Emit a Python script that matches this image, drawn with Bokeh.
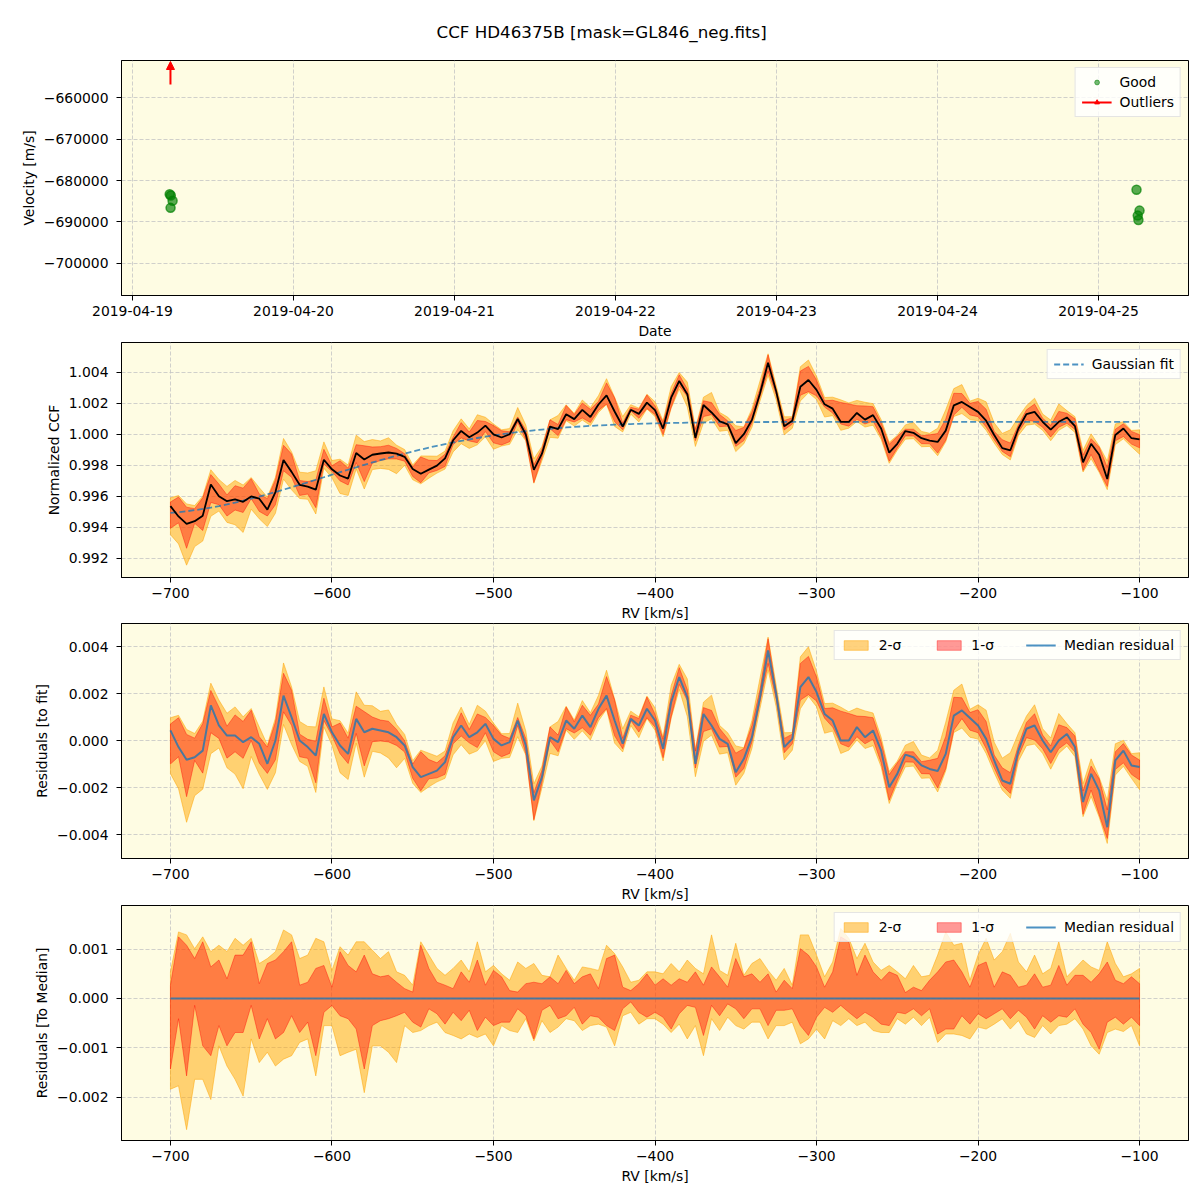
import math
from datetime import datetime, timezone
from bokeh.plotting import figure
from bokeh.models import (Range1d, FixedTicker, CustomJSTickFormatter, DatetimeTickFormatter,
                          Legend, LegendItem, Arrow, NormalHead)
from bokeh.layouts import column
from bokeh.embed import file_html
from bokeh.resources import INLINE

FONT = "DejaVu Sans"
BG = "#fefce3"
FS = "13.9px"

# ---------------- Panel 1 data (velocity time series) ----------------
good_times = ["2019-04-19 05:33", "2019-04-19 05:43", "2019-04-19 05:59", "2019-04-19 05:41",
              "2019-04-25 05:40", "2019-04-25 06:07", "2019-04-25 05:51", "2019-04-25 05:57"]
good_velocity = [-683300, -683600, -684900, -686600,
                 -682250, -687260, -688470, -689520]
outlier_times = ["2019-04-19 05:40"]
date_ticks = ["2019-04-19", "2019-04-20", "2019-04-21", "2019-04-22",
              "2019-04-23", "2019-04-24", "2019-04-25"]
velocity_ticks = [-700000, -690000, -680000, -670000, -660000]

# ---------------- CCF data (RV grid, km/s) ----------------
rv = list(range(-700, -95, 5))

gaussian_fit = [
    0.994946, 0.994992, 0.995049, 0.995117, 0.995195, 0.995284, 0.995382, 0.995490, 0.995606, 0.995730,
    0.995861, 0.995999, 0.996142, 0.996290, 0.996442, 0.996598, 0.996757, 0.996918, 0.997080, 0.997242,
    0.997404, 0.997566, 0.997726, 0.997885, 0.998041, 0.998194, 0.998343, 0.998489, 0.998631, 0.998768,
    0.998900, 0.999028, 0.999151, 0.999268, 0.999380, 0.999487, 0.999588, 0.999684, 0.999774, 0.999860,
    0.999940, 1.000015, 1.000085, 1.000151, 1.000211, 1.000268, 1.000320, 1.000368, 1.000413, 1.000453,
    1.000491, 1.000525, 1.000556, 1.000584, 1.000610, 1.000633, 1.000655, 1.000673, 1.000691, 1.000706,
    1.000720, 1.000732, 1.000743, 1.000752, 1.000761, 1.000769, 1.000775, 1.000781, 1.000786, 1.000791,
    1.000795, 1.000798, 1.000802, 1.000804, 1.000806, 1.000808, 1.000810, 1.000812, 1.000813, 1.000814,
    1.000815, 1.000816, 1.000817, 1.000817, 1.000818, 1.000818, 1.000819, 1.000820, 1.000820, 1.000820,
    1.000820, 1.000820, 1.000820, 1.000820, 1.000820, 1.000820, 1.000820, 1.000820, 1.000820, 1.000820,
    1.000820, 1.000820, 1.000820, 1.000820, 1.000820, 1.000820, 1.000820, 1.000820, 1.000820, 1.000820,
    1.000820, 1.000820, 1.000820, 1.000820, 1.000820, 1.000820, 1.000820, 1.000820, 1.000820, 1.000820,
    1.000820]

median_residual = [
    0.00043, -0.00028, -0.00082, -0.00071, -0.00043, 0.00149, 0.00064, 0.00021, 0.00021, -0.00007,
    0.00014, -0.00014, -0.00099, 0.00000, 0.00191, 0.00099, 0.00000, -0.00028, -0.00064, 0.00113,
    0.00035, -0.00021, -0.00057, 0.00092, 0.00035, 0.00050, 0.00043, 0.00035, 0.00014, -0.00021,
    -0.00113, -0.00156, -0.00142, -0.00128, -0.00092, 0.00014, 0.00064, 0.00014, 0.00035, 0.00071,
    0.00007, -0.00021, -0.00007, 0.00085, -0.00021, -0.00255, -0.00156, 0.00014, -0.00007, 0.00085,
    0.00050, 0.00106, 0.00057, 0.00135, 0.00191, 0.00085, -0.00014, 0.00092, 0.00064, 0.00135,
    0.00085, -0.00035, 0.00163, 0.00270, 0.00184, -0.00099, 0.00113, 0.00064, 0.00007, -0.00014,
    -0.00135, -0.00078, 0.00014, 0.00184, 0.00383, 0.00199, -0.00028, 0.00007, 0.00227, 0.00270,
    0.00206, 0.00113, 0.00085, 0.00000, 0.00000, 0.00057, 0.00014, 0.00043, -0.00043, -0.00199,
    -0.00142, -0.00060, -0.00071, -0.00106, -0.00121, -0.00130, -0.00057, 0.00106, 0.00128, 0.00096,
    0.00064, 0.00007, -0.00085, -0.00170, -0.00184, -0.00043, 0.00050, 0.00064, 0.00000, -0.00050,
    0.00000, 0.00028, -0.00028, -0.00262, -0.00142, -0.00213, -0.00369, -0.00085, -0.00043, -0.00106,
    -0.00113]

# spread of the CCF ensemble relative to its median
sigma2_upper = [
    0.00054, 0.00135, 0.00129, 0.00101, 0.00125, 0.00095, 0.00108, 0.00095, 0.00122, 0.00108,
    0.00122, 0.00071, 0.00081, 0.00095, 0.00139, 0.00129, 0.00081, 0.00088, 0.00122, 0.00115,
    0.00057, 0.00105, 0.00088, 0.00115, 0.00115, 0.00098, 0.00081, 0.00095, 0.00054, 0.00047,
    0.00027, 0.00115, 0.00088, 0.00061, 0.00047, 0.00061, 0.00078, 0.00054, 0.00115, 0.00054,
    0.00067, 0.00050, 0.00037, 0.00074, 0.00061, 0.00071, 0.00047, 0.00044, 0.00088, 0.00061,
    0.00037, 0.00064, 0.00061, 0.00057, 0.00108, 0.00091, 0.00064, 0.00033, 0.00037, 0.00054,
    0.00054, 0.00050, 0.00071, 0.00054, 0.00078, 0.00061, 0.00050, 0.00129, 0.00057, 0.00047,
    0.00112, 0.00047, 0.00071, 0.00081, 0.00057, 0.00037, 0.00061, 0.00027, 0.00129, 0.00129,
    0.00088, 0.00044, 0.00074, 0.00142, 0.00122, 0.00081, 0.00112, 0.00074, 0.00057, 0.00067,
    0.00054, 0.00040, 0.00067, 0.00044, 0.00047, 0.00088, 0.00135, 0.00108, 0.00112, 0.00037,
    0.00088, 0.00122, 0.00078, 0.00095, 0.00132, 0.00074, 0.00054, 0.00088, 0.00050, 0.00061,
    0.00115, 0.00044, 0.00061, 0.00078, 0.00064, 0.00057, 0.00115, 0.00071, 0.00044, 0.00050,
    0.00061]

sigma1_upper = [
    0.00027, 0.00125, 0.00108, 0.00081, 0.00115, 0.00064, 0.00078, 0.00040, 0.00088, 0.00088,
    0.00115, 0.00030, 0.00071, 0.00078, 0.00095, 0.00115, 0.00027, 0.00033, 0.00061, 0.00067,
    0.00023, 0.00095, 0.00067, 0.00054, 0.00088, 0.00050, 0.00044, 0.00047, 0.00033, 0.00020,
    0.00013, 0.00108, 0.00061, 0.00033, 0.00027, 0.00020, 0.00054, 0.00033, 0.00078, 0.00027,
    0.00057, 0.00044, 0.00016, 0.00013, 0.00030, 0.00033, 0.00030, 0.00044, 0.00030, 0.00057,
    0.00030, 0.00044, 0.00050, 0.00020, 0.00081, 0.00088, 0.00023, 0.00016, 0.00030, 0.00050,
    0.00027, 0.00040, 0.00027, 0.00040, 0.00033, 0.00054, 0.00027, 0.00064, 0.00044, 0.00023,
    0.00081, 0.00044, 0.00050, 0.00033, 0.00050, 0.00013, 0.00037, 0.00020, 0.00101, 0.00088,
    0.00064, 0.00023, 0.00054, 0.00125, 0.00115, 0.00047, 0.00088, 0.00054, 0.00037, 0.00054,
    0.00047, 0.00012, 0.00023, 0.00016, 0.00037, 0.00054, 0.00074, 0.00078, 0.00054, 0.00023,
    0.00067, 0.00074, 0.00023, 0.00054, 0.00047, 0.00023, 0.00027, 0.00050, 0.00023, 0.00027,
    0.00067, 0.00027, 0.00047, 0.00047, 0.00033, 0.00050, 0.00074, 0.00037, 0.00030, 0.00044,
    0.00030]

sigma1_lower = [
    -0.00143, -0.00041, -0.00157, -0.00014, -0.00096, -0.00116, -0.00055, -0.00096, -0.00069, -0.00069,
    -0.00014, -0.00082, -0.00041, -0.00082, -0.00069, -0.00035, -0.00069, -0.00048, -0.00116, -0.00028,
    -0.00014, -0.00035, -0.00041, -0.00062, -0.00143, -0.00055, -0.00045, -0.00041, -0.00035, -0.00028,
    -0.00048, -0.00058, -0.00021, -0.00031, -0.00052, -0.00028, -0.00045, -0.00024, -0.00065, -0.00038,
    -0.00055, -0.00048, -0.00048, -0.00021, -0.00035, -0.00082, -0.00024, -0.00014, -0.00041, -0.00035,
    -0.00018, -0.00052, -0.00035, -0.00038, -0.00055, -0.00065, -0.00021, -0.00007, -0.00028, -0.00038,
    -0.00028, -0.00038, -0.00062, -0.00031, -0.00014, -0.00018, -0.00075, -0.00014, -0.00035, -0.00011,
    -0.00021, -0.00041, -0.00021, -0.00021, -0.00055, -0.00024, -0.00024, -0.00021, -0.00055, -0.00075,
    -0.00038, -0.00018, -0.00028, -0.00014, -0.00028, -0.00041, -0.00028, -0.00038, -0.00052, -0.00055,
    -0.00028, -0.00031, -0.00021, -0.00035, -0.00021, -0.00072, -0.00062, -0.00062, -0.00035, -0.00052,
    -0.00031, -0.00041, -0.00031, -0.00021, -0.00041, -0.00024, -0.00038, -0.00062, -0.00035, -0.00048,
    -0.00035, -0.00038, -0.00021, -0.00052, -0.00069, -0.00103, -0.00048, -0.00038, -0.00052, -0.00038,
    -0.00055]

sigma2_lower = [
    -0.00184, -0.00177, -0.00266, -0.00164, -0.00164, -0.00205, -0.00096, -0.00137, -0.00164, -0.00198,
    -0.00082, -0.00130, -0.00109, -0.00137, -0.00123, -0.00116, -0.00089, -0.00082, -0.00157, -0.00055,
    -0.00055, -0.00116, -0.00109, -0.00103, -0.00191, -0.00096, -0.00096, -0.00109, -0.00130, -0.00055,
    -0.00069, -0.00065, -0.00055, -0.00048, -0.00069, -0.00075, -0.00082, -0.00072, -0.00079, -0.00072,
    -0.00096, -0.00055, -0.00065, -0.00069, -0.00041, -0.00086, -0.00045, -0.00069, -0.00058, -0.00041,
    -0.00045, -0.00065, -0.00055, -0.00052, -0.00058, -0.00096, -0.00035, -0.00028, -0.00052, -0.00041,
    -0.00041, -0.00052, -0.00069, -0.00052, -0.00082, -0.00055, -0.00116, -0.00041, -0.00065, -0.00038,
    -0.00055, -0.00062, -0.00048, -0.00048, -0.00082, -0.00055, -0.00055, -0.00048, -0.00092, -0.00082,
    -0.00062, -0.00082, -0.00045, -0.00055, -0.00041, -0.00055, -0.00048, -0.00065, -0.00069, -0.00069,
    -0.00041, -0.00052, -0.00038, -0.00055, -0.00038, -0.00089, -0.00072, -0.00072, -0.00075, -0.00082,
    -0.00058, -0.00062, -0.00052, -0.00041, -0.00062, -0.00045, -0.00072, -0.00079, -0.00055, -0.00072,
    -0.00055, -0.00052, -0.00041, -0.00062, -0.00096, -0.00113, -0.00069, -0.00062, -0.00067, -0.00055,
    -0.00096]

rv_ticks = [-700, -600, -500, -400, -300, -200, -100]
ccf_ticks = [0.992, 0.994, 0.996, 0.998, 1.000, 1.002, 1.004]
resid_ticks = [-0.004, -0.002, 0.0, 0.002, 0.004]
median_ticks = [-0.002, -0.001, 0.0, 0.001]

# ---------------- derived series ----------------
ccf_median = [f + r for f, r in zip(gaussian_fit, median_residual)]
zero_line = [r - r for r in median_residual]


def to_ms(s):
    fmt = "%Y-%m-%d %H:%M" if " " in s else "%Y-%m-%d"
    return datetime.strptime(s, fmt).replace(tzinfo=timezone.utc).timestamp() * 1000.0


DAY = 86400000.0


def minus_fmt(digits):
    return CustomJSTickFormatter(
        code="var s = Math.abs(tick).toFixed(%d); return (tick < -1e-12 ? '\u2212' : '') + s;" % digits)


def style(p, xlabel, ylabel):
    p.background_fill_color = BG
    p.border_fill_color = "white"
    p.outline_line_color = "black"
    p.outline_line_width = 1
    for ax in (p.xaxis[0], p.yaxis[0]):
        ax.axis_label_text_font = FONT
        ax.axis_label_text_font_size = FS
        ax.axis_label_text_font_style = "normal"
        ax.axis_label_text_color = "black"
        ax.major_label_text_font = FONT
        ax.major_label_text_font_size = FS
        ax.major_label_text_color = "black"
        ax.major_tick_out = 5
        ax.major_tick_in = 0
        ax.minor_tick_out = 0
        ax.minor_tick_in = 0
        ax.axis_line_color = "black"
        ax.major_tick_line_color = "black"
    p.xaxis[0].major_label_standoff = 5
    p.xaxis[0].axis_label_standoff = 4
    p.yaxis[0].major_label_standoff = 8
    p.yaxis[0].axis_label_standoff = 4
    p.xaxis[0].axis_label = xlabel
    p.yaxis[0].axis_label = ylabel
    for g in (p.xgrid[0], p.ygrid[0]):
        g.grid_line_color = "#c4c4c4"
        g.grid_line_dash = "4 2"
        g.grid_line_alpha = 0.8


def style_legend(leg):
    leg.label_text_font = FONT
    leg.label_text_font_size = FS
    leg.label_text_color = "black"
    leg.background_fill_color = "white"
    leg.background_fill_alpha = 0.8
    leg.border_line_color = "#cccccc"
    leg.border_line_width = 1
    leg.glyph_width = 30
    leg.glyph_height = 12
    leg.label_standoff = 8
    leg.padding = 6
    leg.spacing = 4
    leg.margin = 7
    leg.label_height = 14


def make_fig(top, bottom, x_range, y_range):
    return figure(frame_width=1067, frame_height=235, output_backend="svg",
                  toolbar_location=None, x_range=x_range, y_range=y_range,
                  min_border_left=121, min_border_right=4,
                  min_border_top=top, min_border_bottom=bottom)


# ---------------- Panel 1 ----------------
d0 = to_ms(date_ticks[0])
y_top, y_bot = -651040, -707750
p1 = make_fig(60, 47, Range1d(d0 - 0.068 * DAY, d0 + 6.559 * DAY), Range1d(y_bot, y_top))
style(p1, "Date", "Velocity [m/s]")
p1.xaxis[0].ticker = FixedTicker(ticks=[to_ms(d) for d in date_ticks])
p1.xaxis[0].formatter = DatetimeTickFormatter(
    days="%Y-%m-%d", months="%Y-%m-%d", hours="%Y-%m-%d", years="%Y-%m-%d",
    minutes="%Y-%m-%d", hourmin="%Y-%m-%d")
p1.yaxis[0].ticker = FixedTicker(ticks=velocity_ticks)
p1.yaxis[0].formatter = minus_fmt(0)

p1.scatter(x=[to_ms(t) for t in good_times], y=good_velocity, size=9,
           fill_color="green", fill_alpha=0.65, line_color="green", line_alpha=0.7, line_width=1.5)

# outliers lie above the plotted range: drawn as red up-arrows at the top edge
PX_Y = (y_top - y_bot) / 235.0          # data units per screen pixel (y)
for t in outlier_times:
    tm = to_ms(t)
    p1.add_layout(Arrow(end=NormalHead(size=8, fill_color="red", line_color="red", line_width=1),
                        x_start=tm, y_start=y_top - 24 * PX_Y, x_end=tm, y_end=y_top - 1 * PX_Y,
                        line_color="red", line_width=2))

# legend-only renderers, placed outside the visible range
off_x = [d0 - 20 * DAY, d0 - 19 * DAY]
off_y = [-800000, -800000]
leg_good = p1.scatter(x=off_x[:1], y=off_y[:1], size=5, fill_color="green", fill_alpha=0.55,
                      line_color="green", line_alpha=0.55)
leg_out_line = p1.line(x=off_x, y=off_y, line_color="red", line_width=2)
leg_out_head = p1.scatter(x=off_x[:1], y=off_y[:1], marker="triangle", angle=math.pi / 2, size=9,
                          fill_color="red", line_color="red")
leg1 = Legend(items=[LegendItem(label="Good", renderers=[leg_good]),
                     LegendItem(label="Outliers", renderers=[leg_out_line, leg_out_head])],
              location="top_right")
style_legend(leg1)
p1.add_layout(leg1)

p1.title.text = "CCF HD46375B [mask=GL846_neg.fits]"
p1.title.text_font = FONT
p1.title.text_font_size = "16.7px"
p1.title.text_font_style = "normal"
p1.title.text_color = "black"
p1.title.align = "left"
p1.title.offset = 315
p1.title.standoff = 38

# ---------------- Panel 2 ----------------
def band(center, lo, hi):
    xs = rv + rv[::-1]
    ys = [c + h for c, h in zip(center, hi)] + [c + l for c, l in zip(center, lo)][::-1]
    return xs, ys


p2 = make_fig(0, 46, Range1d(-730.3, -69.7), Range1d(0.990774, 1.005935))
style(p2, "RV [km/s]", "Normalized CCF")
p2.xaxis[0].ticker = FixedTicker(ticks=rv_ticks)
p2.xaxis[0].formatter = minus_fmt(0)
p2.yaxis[0].ticker = FixedTicker(ticks=ccf_ticks)
p2.yaxis[0].formatter = minus_fmt(3)

xs, ys = band(ccf_median, sigma2_lower, sigma2_upper)
p2.patch(xs, ys, fill_color="orange", fill_alpha=0.5, line_color="orange", line_alpha=0.5, line_width=1)
xs, ys = band(ccf_median, sigma1_lower, sigma1_upper)
p2.patch(xs, ys, fill_color="red", fill_alpha=0.4, line_color="red", line_alpha=0.4, line_width=1)
r_fit = p2.line(rv, gaussian_fit, line_color="#1f77b4", line_alpha=0.8, line_width=1.8, line_dash="6 3")
p2.line(rv, ccf_median, line_color="black", line_width=1.8)
leg2 = Legend(items=[LegendItem(label="Gaussian fit", renderers=[r_fit])], location="top_right")
style_legend(leg2)
p2.add_layout(leg2)

# ---------------- Panel 3 ----------------
p3 = make_fig(0, 47, Range1d(-730.3, -69.7), Range1d(-0.005021, 0.004979))
style(p3, "RV [km/s]", "Residuals [to fit]")
p3.xaxis[0].ticker = FixedTicker(ticks=rv_ticks)
p3.xaxis[0].formatter = minus_fmt(0)
p3.yaxis[0].ticker = FixedTicker(ticks=resid_ticks)
p3.yaxis[0].formatter = minus_fmt(3)

xs, ys = band(median_residual, sigma2_lower, sigma2_upper)
r3a = p3.patch(xs, ys, fill_color="orange", fill_alpha=0.5, line_color="orange", line_alpha=0.5, line_width=1)
xs, ys = band(median_residual, sigma1_lower, sigma1_upper)
r3b = p3.patch(xs, ys, fill_color="red", fill_alpha=0.4, line_color="red", line_alpha=0.4, line_width=1)
r3c = p3.line(rv, median_residual, line_color="#1f77b4", line_alpha=0.8, line_width=2)
leg3 = Legend(items=[LegendItem(label="2-\u03c3", renderers=[r3a]),
                     LegendItem(label="1-\u03c3", renderers=[r3b]),
                     LegendItem(label="Median residual", renderers=[r3c])],
              location="top_right", orientation="horizontal")
style_legend(leg3)
leg3.spacing = 32
p3.add_layout(leg3)

# ---------------- Panel 4 ----------------
p4 = make_fig(0, 47, Range1d(-730.3, -69.7), Range1d(-0.00288, 0.001886))
style(p4, "RV [km/s]", "Residuals [To Median]")
p4.xaxis[0].ticker = FixedTicker(ticks=rv_ticks)
p4.xaxis[0].formatter = minus_fmt(0)
p4.yaxis[0].ticker = FixedTicker(ticks=median_ticks)
p4.yaxis[0].formatter = minus_fmt(3)

xs, ys = band(zero_line, sigma2_lower, sigma2_upper)
r4a = p4.patch(xs, ys, fill_color="orange", fill_alpha=0.5, line_color="orange", line_alpha=0.5, line_width=1)
xs, ys = band(zero_line, sigma1_lower, sigma1_upper)
r4b = p4.patch(xs, ys, fill_color="red", fill_alpha=0.4, line_color="red", line_alpha=0.4, line_width=1)
r4c = p4.line(rv, zero_line, line_color="#1f77b4", line_alpha=0.8, line_width=2)
leg4 = Legend(items=[LegendItem(label="2-\u03c3", renderers=[r4a]),
                     LegendItem(label="1-\u03c3", renderers=[r4b]),
                     LegendItem(label="Median residual", renderers=[r4c])],
              location="top_right", orientation="horizontal")
style_legend(leg4)
leg4.spacing = 32
p4.add_layout(leg4)

layout = column(p1, p2, p3, p4)
with open("out.html", "w", encoding="utf-8") as fh:
    fh.write(file_html(layout, INLINE, "CCF HD46375B"))
